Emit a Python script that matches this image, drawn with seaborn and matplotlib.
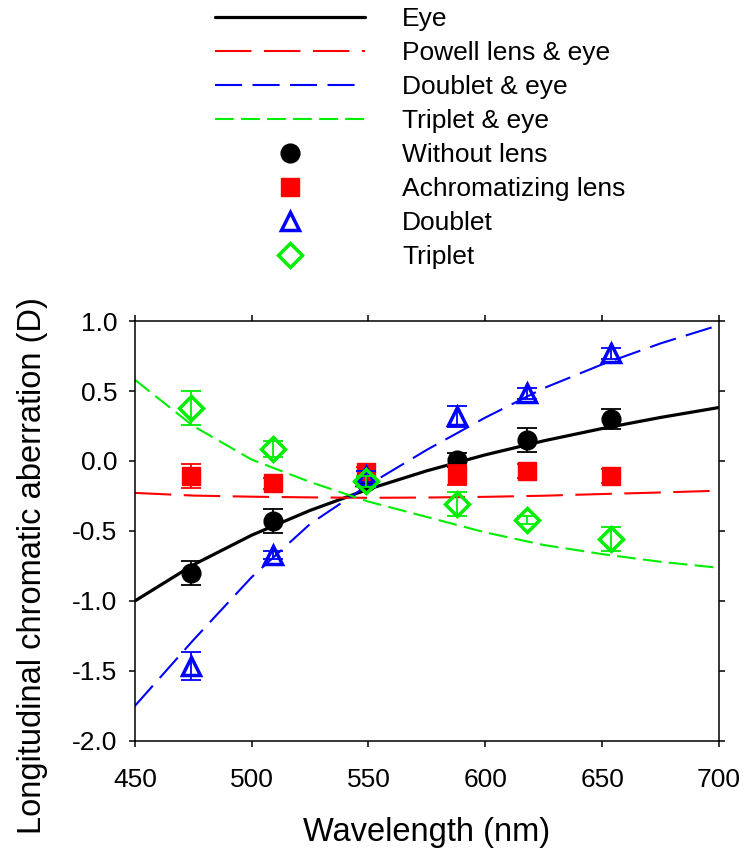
import matplotlib
matplotlib.use("Agg")
import matplotlib.pyplot as plt
import seaborn as sns

# model curves, every 25 nm
wl_curve = [450, 475, 500, 525, 550, 575, 600, 625, 650, 675, 700]
eye_curve = [-1.000, -0.742, -0.530, -0.353, -0.201, -0.070, 0.044, 0.144, 0.232, 0.311, 0.382]
powell_curve = [-0.228, -0.247, -0.255, -0.260, -0.263, -0.261, -0.256, -0.248, -0.236, -0.225, -0.212]
doublet_curve = [-1.75, -1.28, -0.83, -0.45, -0.17, 0.08, 0.31, 0.52, 0.69, 0.84, 0.97]
triplet_curve = [0.58, 0.25, 0.01, -0.15, -0.29, -0.40, -0.51, -0.60, -0.665, -0.72, -0.763]

# measured points
wl_pts = [474, 509, 549, 588, 618, 654]
without_lens = [-0.80, -0.43, -0.15, 0.01, 0.15, 0.30]
without_err = [0.085, 0.085, 0.03, 0.05, 0.085, 0.07]
achrom = [-0.11, -0.16, -0.08, -0.10, -0.075, -0.11]
achrom_err = [0.085, 0.04, 0.04, 0.07, 0.05, 0.05]
doublet = [-1.465, -0.67, -0.11, 0.32, 0.485, 0.77]
doublet_err = [0.10, 0.03, 0.04, 0.075, 0.04, 0.04]
triplet = [0.38, 0.085, -0.145, -0.31, -0.42, -0.56]
triplet_err = [0.12, 0.06, 0.04, 0.085, 0.03, 0.085]

sns.set_style("ticks")
plt.rcParams['font.family'] = ['Liberation Sans', 'DejaVu Sans']
plt.rcParams.update({'text.color': 'black', 'axes.labelcolor': 'black',
                     'xtick.color': 'black', 'ytick.color': 'black',
                     'axes.edgecolor': 'black'})

fig = plt.figure(figsize=(7.45, 8.59), dpi=100)
ax = fig.add_axes([0.181, 0.1374, 0.784, 0.4889])

green = '#00ee00'

# 1. curves
sns.lineplot(x=wl_curve, y=eye_curve, ax=ax, color='black', lw=2.3, label='Eye')
sns.lineplot(x=wl_curve, y=powell_curve, ax=ax, color='red', lw=1.5,
             linestyle=(0, (17.5, 6)), label='Powell lens & eye')
sns.lineplot(x=wl_curve, y=doublet_curve, ax=ax, color='blue', lw=1.5,
             linestyle=(0, (13, 5)), label='Doublet & eye')
sns.lineplot(x=wl_curve, y=triplet_curve, ax=ax, color=green, lw=1.5,
             linestyle=(0, (9, 3.5)), label='Triplet & eye')

# 2. data points (markers carry the legend, error bars drawn on top)
series = [
    (without_lens, without_err, 'o', 'black', 13.5, 'Without lens', True),
    (achrom, achrom_err, 's', 'red', 13, 'Achromatizing lens', True),
    (doublet, doublet_err, '^', 'blue', 13, 'Doublet', False),
    (triplet, triplet_err, 'D', green, 12, 'Triplet', False),
]
for vals, err, mk, col, ms, lab, filled in series:
    ax.plot(wl_pts, vals, linestyle='none', marker=mk, ms=ms, color=col,
            mfc=col if filled else 'none', mew=1 if filled else 2.5, label=lab)
    ax.errorbar(wl_pts, vals, yerr=err, fmt='none', ecolor=col,
                elinewidth=1.3, capsize=7, capthick=1.3)

ax.set_xlim(450, 700)
ax.set_ylim(-2.0, 1.0)
ax.set_xticks([450, 500, 550, 600, 650, 700])
ax.set_yticks([-2.0, -1.5, -1.0, -0.5, 0.0, 0.5, 1.0])
ax.set_yticklabels([f"{v:.1f}" for v in ax.get_yticks()])
ax.tick_params(direction='out', length=4.5, width=1.1, labelsize=19,
               top=True, right=True)
ax.tick_params(axis='x', pad=15)
ax.tick_params(axis='y', pad=8)
for s in ax.spines.values():
    s.set_linewidth(1.1)
    s.set_visible(True)

ax.set_xlabel("Wavelength (nm)", fontsize=23.5)
ax.set_ylabel("Longitudinal chromatic aberration (D)", fontsize=23.5)
ax.xaxis.set_label_coords(0.5, -0.181)
ax.yaxis.set_label_coords(-0.149, 0.418)

ax.legend(loc='upper left', bbox_to_anchor=(0.288, 0.992), bbox_transform=fig.transFigure,
          frameon=False, fontsize=19, handlelength=5.7, handletextpad=1.4,
          labelspacing=0.38, numpoints=1, borderpad=0, borderaxespad=0)

fig.savefig("out.png", dpi=100)
